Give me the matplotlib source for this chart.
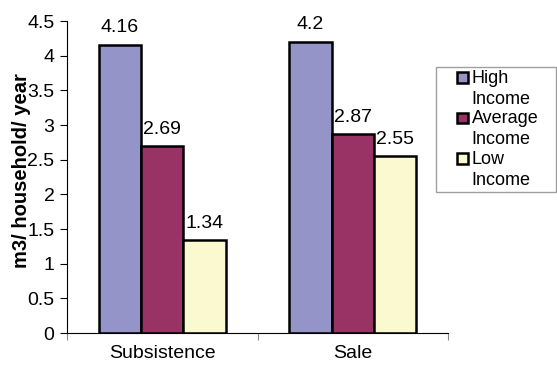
import matplotlib
matplotlib.use("Agg")
import matplotlib.pyplot as plt
import numpy as np
from matplotlib.patches import Rectangle
from matplotlib.container import BarContainer
from matplotlib.legend_handler import HandlerPatch

categories = ["Subsistence", "Sale"]
series = ["High\nIncome", "Average\nIncome", "Low\nIncome"]
high = [4.16, 4.2]
average = [2.69, 2.87]
low = [1.34, 2.55]
colors = ["#9494c8", "#993366", "#fbf9cf"]

plt.rcParams['font.family'] = ['Liberation Sans', 'DejaVu Sans']

fig = plt.figure(figsize=(5.57, 3.69), dpi=100)
ax = fig.add_axes([67/557, 1 - 333/369, (448 - 67)/557, (333 - 21)/369])

x = np.arange(len(categories))
w = 0.222
for i, (vals, lab) in enumerate(zip([high, average, low], series)):
    bars = ax.bar(x + (i - 1)*w, vals, w, color=colors[i], edgecolor="black",
                  linewidth=1.8, label=lab)
    for b, v in zip(bars, vals):
        ax.text(b.get_x() + b.get_width()/2, v + 0.12, f"{v:g}",
                ha="center", va="bottom", fontsize=14)

ax.set_xlim(-0.5, 1.5)
ax.set_ylim(0, 4.5)
yt = np.arange(0, 4.51, 0.5)
ax.set_yticks(yt)
ax.set_yticklabels([f"{v:g}" for v in yt], fontsize=14)
ax.set_xticks([-0.5, 0.5, 1.5])
ax.set_xticklabels([])
ax.set_xticks(x, minor=True)
ax.set_xticklabels(categories, minor=True, fontsize=14)
ax.tick_params(axis="x", which="minor", length=0, pad=9)
ax.tick_params(axis="x", which="major", length=5, color="#888888")
ax.tick_params(axis="y", length=5, pad=4)
ax.spines["top"].set_visible(False)
ax.spines["right"].set_visible(False)

fig.text(22/557, 1 - 171/369, "m3/ household/ year", rotation=90, ha="center",
         va="center", fontsize=14.5, fontweight="bold")


def square(legend, orig_handle, xdescent, ydescent, width, height, fontsize):
    s = fontsize * 0.6
    return Rectangle((width - s - xdescent, height - 0.02*fontsize - ydescent), s, s)


def first_child(legend_handle, orig_handle):
    legend_handle.update_from(orig_handle[0])


leg = ax.legend(loc="upper left", bbox_to_anchor=(436/557, 1 - 67/369, 120/557, 0),
                bbox_transform=fig.transFigure, mode="expand", fontsize=13,
                frameon=True, fancybox=False, borderaxespad=0, handlelength=1.6,
                handleheight=0.7, handletextpad=0.22, labelspacing=0.15,
                borderpad=0.15,
                handler_map={BarContainer: HandlerPatch(patch_func=square,
                                                        update_func=first_child)})
for t in leg.get_texts():
    t.set_linespacing(1.3)
leg.get_frame().set_edgecolor("#888888")
leg.get_frame().set_linewidth(1.0)

fig.savefig("out.png", dpi=100)
